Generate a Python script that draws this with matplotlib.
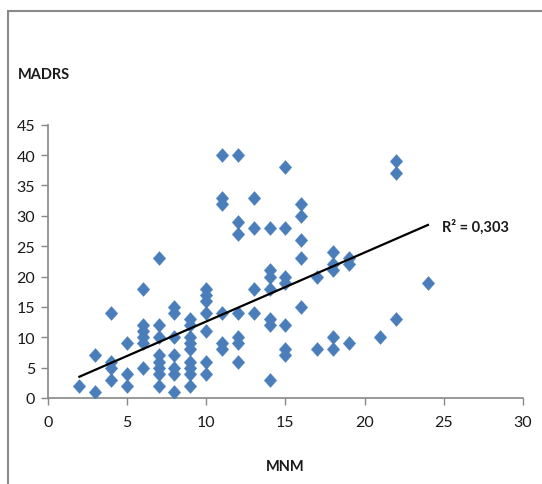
import numpy as np
import matplotlib
matplotlib.use("Agg")
import matplotlib.pyplot as plt
from matplotlib.patches import Rectangle

plt.rcParams['font.family'] = ['Lato', 'DejaVu Sans']

# MNM scores and the MADRS scores observed at each of them
mnm_groups = [2, 3, 4, 5, 6, 7, 8, 9, 10, 11, 12, 13, 14, 15, 16, 17, 18, 19, 21, 22, 24]
madrs_groups = [
    [2],
    [1, 7],
    [14, 6, 5, 3],
    [9, 4, 2],
    [18, 12, 11, 10, 9, 5],
    [23, 12, 10, 7, 6, 5, 4, 2],
    [15, 14, 10, 7, 5, 4, 1],
    [13, 12, 10, 9, 8, 6, 5, 4, 2],
    [18, 17, 16, 14, 11, 6, 4],
    [40, 33, 32, 14, 9, 8],
    [40, 29, 27, 14, 10, 9, 6],
    [33, 28, 18, 14],
    [28, 21, 20, 18, 13, 12, 3],
    [38, 28, 20, 19, 12, 8, 7],
    [32, 30, 26, 23, 15],
    [20, 8],
    [24, 22, 21, 10, 8],
    [23, 22, 9],
    [10],
    [39, 37, 13],
    [19],
]
# linear trend as reported with the chart
trend_slope = 1.136
trend_intercept = 1.23
r2_label = "R² = 0,303"
x_ticks = [0, 5, 10, 15, 20, 25, 30]
y_ticks = [0, 5, 10, 15, 20, 25, 30, 35, 40, 45]

mnm = np.concatenate([[x] * len(v) for x, v in zip(mnm_groups, madrs_groups)])
madrs = np.concatenate(madrs_groups)

W, H = 542, 485
fig = plt.figure(figsize=(W / 100, H / 100), dpi=100)
fig.patch.set_facecolor('white')

# chart frame
fig.patches.append(Rectangle((8 / W, -0.1), 1.2, (H - 12) / H + 0.1,
                             transform=fig.transFigure, fill=False,
                             edgecolor='#8a8a8a', linewidth=1.5))

ax = fig.add_axes([47.7 / W, (H - 399) / H, (523 - 47.7) / W, (399 - 125.7) / H])

diamond = [(0, 1), (0.9, 0), (0, -1), (-0.9, 0), (0, 1)]
ax.plot(mnm, madrs, linestyle='none', marker=diamond, markersize=10,
        markerfacecolor='#4a7ebb', markeredgecolor='#4a7ebb',
        markeredgewidth=0.3, zorder=3)

# trend line over the observed MNM range
xl = np.array([mnm.min(), mnm.max()])
ax.plot(xl, trend_slope * xl + trend_intercept, color='black', linewidth=1.6, zorder=4)

ax.text(24.9, 28.3, r2_label, fontsize=10.5, fontweight='bold',
        va='center', ha='left', color='#1a1a1a')

ax.set_xlim(0, 30)
ax.set_ylim(0, 45)
ax.set_xticks(x_ticks)
ax.set_yticks(y_ticks)
for s in ['top', 'right']:
    ax.spines[s].set_visible(False)
for s in ['left', 'bottom']:
    ax.spines[s].set_color('#888888')
    ax.spines[s].set_linewidth(1.2)
ax.tick_params(axis='both', direction='out', length=5, width=1.0,
               color='#888888', labelsize=11.5, labelcolor='#1a1a1a', pad=4)
ax.tick_params(axis='x', pad=7)

fig.text(18 / W, 1 - 75 / H, "MADRS", fontsize=10.5, fontweight='bold',
         ha='left', va='center', color='#1a1a1a')
fig.text(285 / W, 1 - 467 / H, "MNM", fontsize=10.5, fontweight='bold',
         ha='center', va='center', color='#1a1a1a')

fig.savefig("out.png", dpi=100, facecolor='white')
